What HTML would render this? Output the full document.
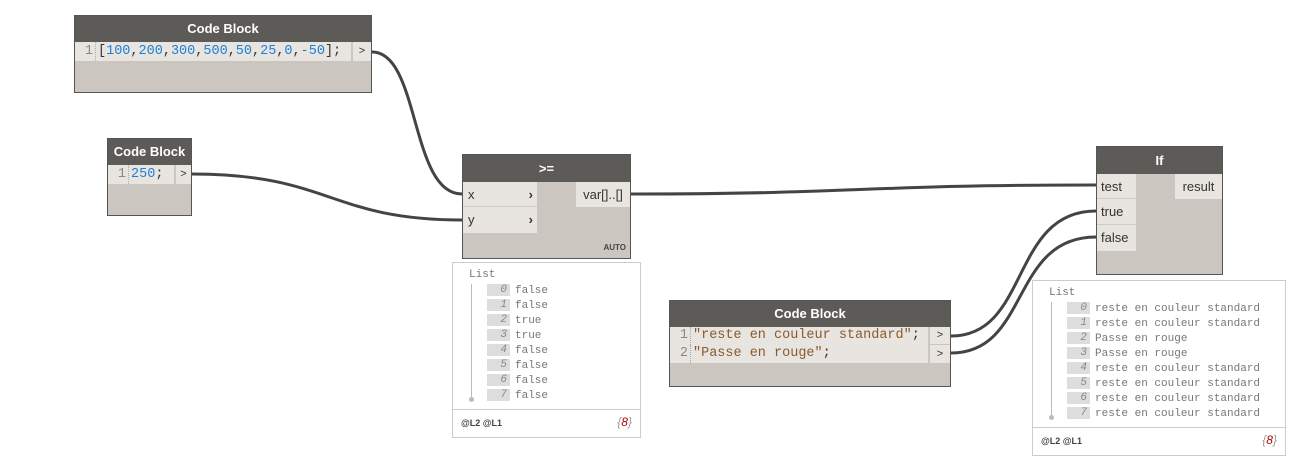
<!DOCTYPE html>
<html><head><style>
body{margin:0;width:1296px;height:466px;background:#fff;position:relative;overflow:hidden;font-family:"Liberation Sans",sans-serif}
.n{position:absolute;background:#cbc6c0;border:1px solid #555;box-sizing:border-box}
.h{background:#5d5b58;color:#fff;font-weight:bold;font-size:13px;text-align:center;height:26px;line-height:26px}
.r{position:absolute;background:#e8e5e1;font-size:13px;color:#333;box-sizing:border-box;white-space:nowrap;overflow:hidden}
.m{font-family:"Liberation Mono",monospace;font-size:13.5px}
.ln{color:#888;display:inline-block;text-align:right;border-right:1px dotted #aaa;padding-right:2px;margin-right:2px}
.b{color:#1e7fd6}.s{color:#8a5a2c}
.p{position:absolute;border:1px solid #ccc;background:#fff;box-sizing:border-box;font-family:"Liberation Mono",monospace;font-size:11px;color:#777}
.row{height:15px;line-height:15px;white-space:pre}
.ix{display:inline-block;background:#ddd;color:#888;font-style:italic;width:20px;height:12px;line-height:12px;text-align:right;padding-right:3px;margin-right:5px;vertical-align:middle}
.ft{position:absolute;left:0;right:0;bottom:0;height:27px;border-top:1px solid #ccc;font-size:9px;font-weight:bold;color:#444;font-family:"Liberation Sans",sans-serif}
</style></head><body>
<svg width="1296" height="466" style="position:absolute;left:0;top:0" fill="none" stroke="#444" stroke-width="3">
<path d="M372,52 C420,52 410,194 462,194"/>
<path d="M192,174 C330,174 330,220 462,220"/>
<path d="M631,194 C860,194 860,185 1096,185"/>
<path d="M951,336 C1030,336 1010,211 1096,211"/>
<path d="M951,353 C1030,353 1010,237 1096,237"/>
</svg>

<div class="n" style="left:74px;top:15px;width:298px;height:78px"><div class="h">Code Block</div>
<div class="r m" style="left:0;top:26px;width:276px;height:19px;line-height:19px"><span class="ln" style="width:18px">1</span>[<span class="b">100</span>,<span class="b">200</span>,<span class="b">300</span>,<span class="b">500</span>,<span class="b">50</span>,<span class="b">25</span>,<span class="b">0</span>,<span class="b">-50</span>];</div>
<div class="r" style="left:278px;top:26px;width:18px;height:19px;line-height:19px;text-align:center;font-size:11px">&gt;</div></div>

<div class="n" style="left:107px;top:138px;width:85px;height:78px"><div class="h">Code Block</div>
<div class="r m" style="left:0;top:26px;width:66px;height:19px;line-height:19px"><span class="ln" style="width:18px">1</span><span class="b">250</span>;</div>
<div class="r" style="left:68px;top:26px;width:15px;height:19px;line-height:19px;text-align:center;font-size:11px">&gt;</div></div>

<div class="n" style="left:462px;top:154px;width:169px;height:105px"><div class="h" style="height:27px;line-height:27px">&gt;=</div>
<div class="r" style="left:0;top:27px;width:74px;height:25px;line-height:25px;padding-left:5px;border-bottom:1px solid #ccc">x<span style="position:absolute;right:4px;font-weight:bold">&#x203A;</span></div>
<div class="r" style="left:0;top:52px;width:74px;height:26px;line-height:26px;padding-left:5px">y<span style="position:absolute;right:4px;font-weight:bold">&#x203A;</span></div>
<div class="r" style="left:113px;top:27px;width:54px;height:25px;line-height:25px;text-align:center">var[]..[]</div>
<div style="position:absolute;right:4px;bottom:6px;font-size:8px;font-weight:bold;color:#444">AUTO</div></div>

<div class="p" style="left:452px;top:262px;width:189px;height:176px">
<div style="position:absolute;left:16px;top:6px">List</div>
<div style="position:absolute;left:18px;top:21px;width:1px;height:115px;background:#bbb"></div>
<div style="position:absolute;left:16px;top:134px;width:5px;height:5px;border-radius:3px;background:#bbb"></div>
<div style="position:absolute;left:34px;top:21px">
<div class="row"><span class="ix">0</span>false</div><div class="row"><span class="ix">1</span>false</div><div class="row"><span class="ix">2</span>true</div><div class="row"><span class="ix">3</span>true</div><div class="row"><span class="ix">4</span>false</div><div class="row"><span class="ix">5</span>false</div><div class="row"><span class="ix">6</span>false</div><div class="row"><span class="ix">7</span>false</div></div>
<div class="ft"><span style="position:absolute;left:8px;top:8px">@L2 @L1</span><span style="position:absolute;right:8px;top:5px;font-size:12px;font-weight:normal;font-style:italic;color:#999">{<span style="color:#a00">8</span>}</span></div></div>

<div class="n" style="left:1096px;top:146px;width:127px;height:129px"><div class="h" style="height:27px;line-height:27px">If</div>
<div class="r" style="left:0;top:27px;width:39px;height:25px;line-height:25px;padding-left:4px;border-bottom:1px solid #ccc">test</div>
<div class="r" style="left:0;top:52px;width:39px;height:26px;line-height:26px;padding-left:4px;border-bottom:1px solid #ccc">true</div>
<div class="r" style="left:0;top:78px;width:39px;height:26px;line-height:26px;padding-left:4px">false</div>
<div class="r" style="left:78px;top:27px;width:47px;height:25px;line-height:25px;text-align:center">result</div></div>

<div class="p" style="left:1032px;top:280px;width:254px;height:176px">
<div style="position:absolute;left:16px;top:6px">List</div>
<div style="position:absolute;left:18px;top:21px;width:1px;height:115px;background:#bbb"></div>
<div style="position:absolute;left:16px;top:134px;width:5px;height:5px;border-radius:3px;background:#bbb"></div>
<div style="position:absolute;left:34px;top:21px">
<div class="row"><span class="ix">0</span>reste en couleur standard</div><div class="row"><span class="ix">1</span>reste en couleur standard</div><div class="row"><span class="ix">2</span>Passe en rouge</div><div class="row"><span class="ix">3</span>Passe en rouge</div><div class="row"><span class="ix">4</span>reste en couleur standard</div><div class="row"><span class="ix">5</span>reste en couleur standard</div><div class="row"><span class="ix">6</span>reste en couleur standard</div><div class="row"><span class="ix">7</span>reste en couleur standard</div></div>
<div class="ft"><span style="position:absolute;left:8px;top:8px">@L2 @L1</span><span style="position:absolute;right:8px;top:5px;font-size:12px;font-weight:normal;font-style:italic;color:#999">{<span style="color:#a00">8</span>}</span></div></div>

<div class="n" style="left:669px;top:300px;width:282px;height:87px"><div class="h">Code Block</div>
<div class="r m" style="left:0;top:26px;width:258px;height:36px;line-height:18px"><span class="ln" style="width:18px">1</span><span class="s">"reste en couleur standard"</span>;<br><span class="ln" style="width:18px">2</span><span class="s">"Passe en rouge"</span>;</div>
<div class="r" style="left:260px;top:26px;width:20px;height:17px;line-height:17px;text-align:center;font-size:11px">&gt;</div>
<div class="r" style="left:260px;top:44px;width:20px;height:18px;line-height:18px;text-align:center;font-size:11px">&gt;</div></div>
</body></html>
